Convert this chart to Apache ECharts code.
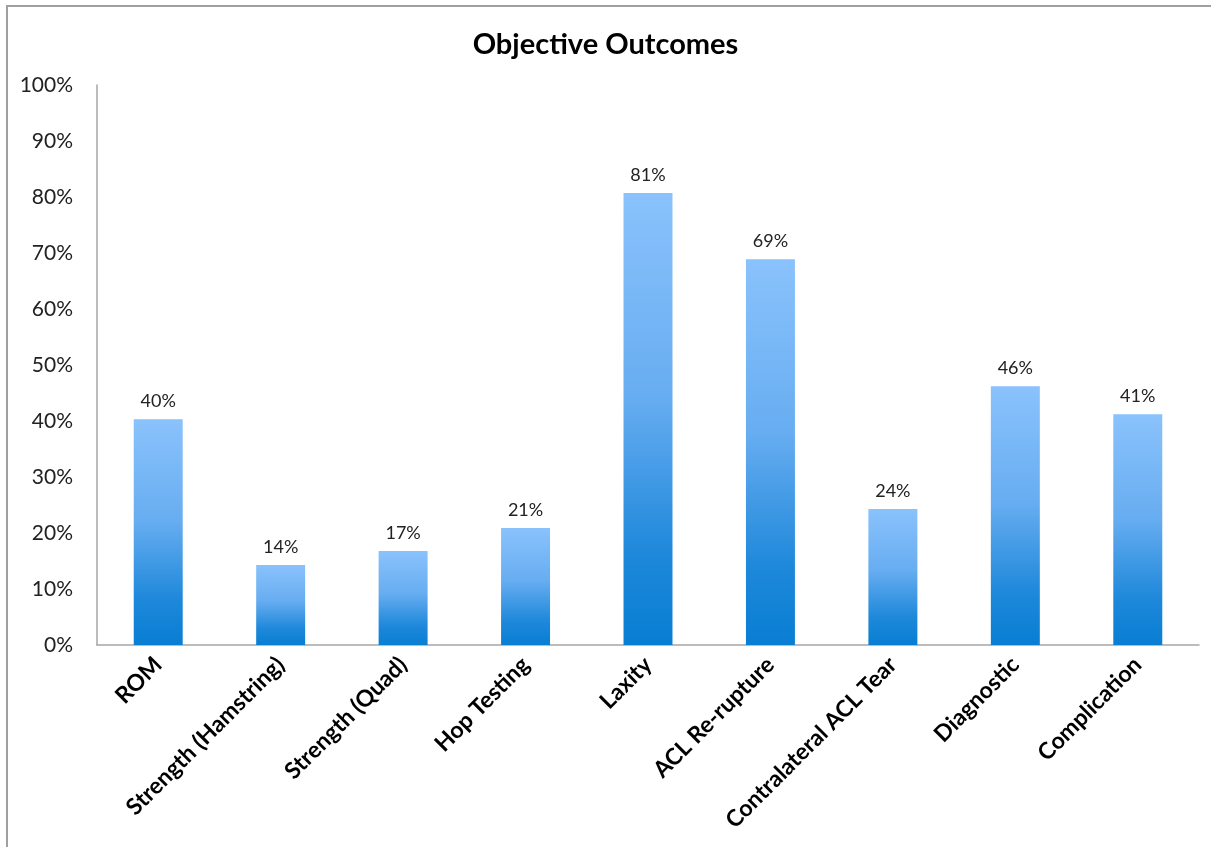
<!DOCTYPE html>
<html>
<head>
<meta charset="utf-8">
<script src="https://cdn.jsdelivr.net/npm/echarts@6/dist/echarts.min.js"></script>
<style>
html,body{margin:0;padding:0;background:#fff;}
#chart{width:1211px;height:847px;}
</style>
</head>
<body>
<div id="chart"></div>
<script>
const categories = ["ROM","Strength (Hamstring)","Strength (Quad)","Hop Testing","Laxity","ACL Re-rupture","Contralateral ACL Tear","Diagnostic","Complication"];
const values = [40.3, 14.3, 16.8, 20.9, 80.7, 68.9, 24.3, 46.2, 41.2];
const labels = ["40%","14%","17%","21%","81%","69%","24%","46%","41%"];
const yTicks = [0,10,20,30,40,50,60,70,80,90,100];

const chart = echarts.init(document.getElementById('chart'));
const font = 'Lato, "Open Sans", sans-serif';
chart.setOption({
  animation:false,
  backgroundColor:'#fff',
  title:{text:'Objective Outcomes',left:'center',top:25,
    textStyle:{fontFamily:font,fontWeight:'bold',fontSize:29,color:'#000'}},
  graphic:[{type:'rect',shape:{x:7,y:6,width:1230,height:870},
    style:{fill:'none',stroke:'#a0a0a0',lineWidth:2},z:-1}],
  grid:{left:97,right:12,top:85,bottom:202},
  xAxis:{type:'category',data:categories,
    axisLine:{lineStyle:{color:'#a6a6a6',width:1.5}},
    axisTick:{show:false},
    axisLabel:{rotate:45,interval:0,fontFamily:font,fontWeight:'bold',fontSize:23,color:'#000',margin:16}},
  yAxis:{type:'value',min:0,max:100,interval:10,
    axisLine:{show:true,lineStyle:{color:'#a6a6a6',width:1.5}},
    axisTick:{show:false},
    splitLine:{show:false},
    axisLabel:{formatter:v=>yTicks.includes(v)?v+'%':'',fontFamily:font,fontSize:21,color:'#222',margin:24}},
  series:[{type:'bar',data:values,barWidth:'40%',
    itemStyle:{color:new echarts.graphic.LinearGradient(0,0,0,1,[
      {offset:0,color:'#8ac2fc'},
      {offset:0.45,color:'#67adf1'},
      {offset:0.8,color:'#1e88da'},
      {offset:1,color:'#087ed3'}])},
    label:{show:true,position:'top',distance:9,
      formatter:p=>labels[p.dataIndex],
      fontFamily:font,fontSize:18,color:'#222'}}]
});
</script>
</body>
</html>
